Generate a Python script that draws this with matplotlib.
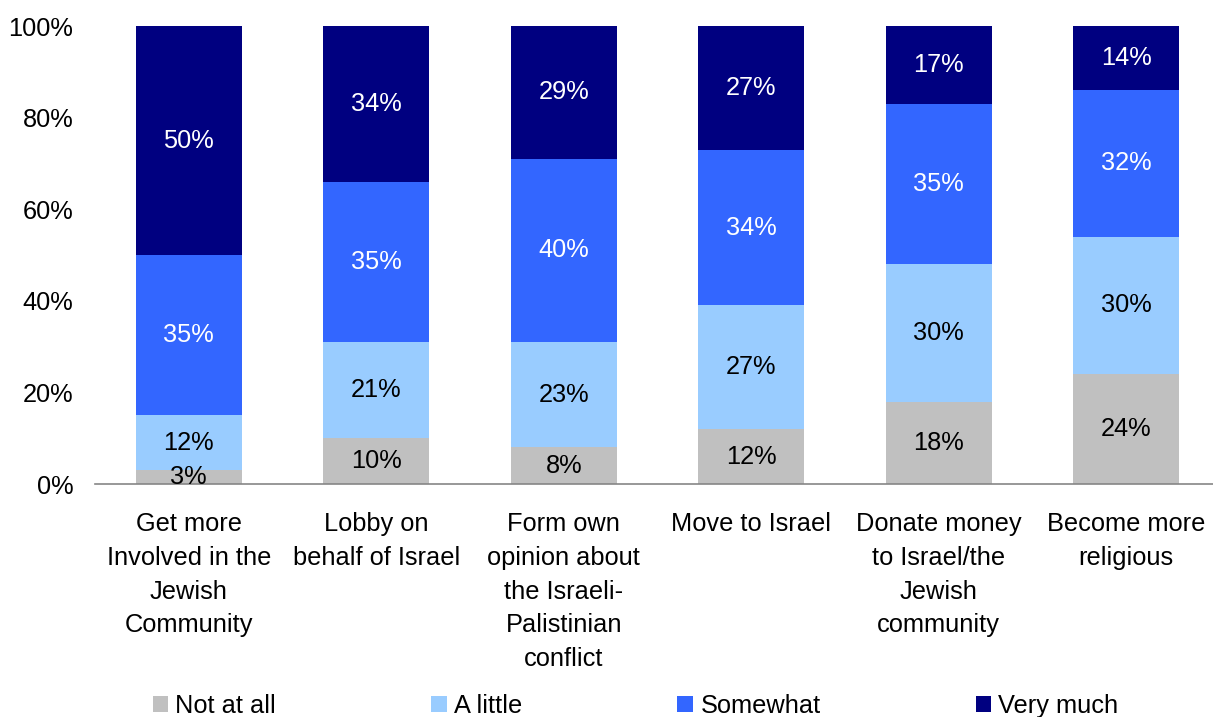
import numpy as np
import matplotlib
matplotlib.use("Agg")
import matplotlib.pyplot as plt
from matplotlib.patches import Patch

plt.rcParams['font.family'] = ['Liberation Sans', 'DejaVu Sans']

categories = [
    "Get more\nInvolved in the\nJewish\nCommunity",
    "Lobby on\nbehalf of Israel",
    "Form own\nopinion about\nthe Israeli-\nPalistinian\nconflict",
    "Move to Israel",
    "Donate money\nto Israel/the\nJewish\ncommunity",
    "Become more\nreligious",
]
series_names = ["Not at all", "A little", "Somewhat", "Very much"]
not_at_all = [3, 10, 8, 12, 18, 24]
a_little = [12, 21, 23, 27, 30, 30]
somewhat = [35, 35, 40, 34, 35, 32]
very_much = [50, 34, 29, 27, 17, 14]

colors = ["#C0C0C0", "#99CCFF", "#3366FF", "#000080"]
text_colors = ["black", "black", "white", "white"]
fs = 18.3

fig = plt.figure(figsize=(12.13, 7.17), dpi=100)
ax = fig.add_axes([95 / 1213, 233 / 717, 1118 / 1213, 458 / 717])

x = np.arange(len(categories))
bottom = np.zeros(len(categories))
for vals, col, tcol in zip([not_at_all, a_little, somewhat, very_much], colors, text_colors):
    vals = np.array(vals, dtype=float)
    ax.bar(x, vals, width=0.565, bottom=bottom, color=col, edgecolor='none')
    for xi, b, v in zip(x, bottom, vals):
        ax.text(xi, b + v / 2, f"{int(v)}%", ha='center', va='center',
                color=tcol, fontsize=fs)
    bottom += vals

ax.set_ylim(0, 100)
ax.set_xlim(-0.5, 5.5 - 7 / 187.6)
ax.set_yticks(np.arange(0, 101, 20))
ax.set_yticklabels([f"{v}%" for v in range(0, 101, 20)], fontsize=fs)
ax.set_xticks(x)
ax.set_xticklabels(categories, fontsize=fs, linespacing=1.52, va='top')
ax.tick_params(axis='both', length=0)
ax.tick_params(axis='x', pad=20)
ax.tick_params(axis='y', pad=15.5)

for side in ['top', 'right', 'left']:
    ax.spines[side].set_visible(False)
ax.spines['bottom'].set_color('#868686')
ax.spines['bottom'].set_linewidth(1.2)

handles = [Patch(facecolor=c, edgecolor='none') for c in colors]
fig.legend(handles, series_names, loc='center', bbox_to_anchor=(0.524, 0.0155),
           ncol=4, frameon=False, fontsize=fs, handlelength=0.6, handleheight=0.62,
           handletextpad=0.3, columnspacing=6.1, borderpad=0, borderaxespad=0)

fig.savefig("out.png", dpi=100)
